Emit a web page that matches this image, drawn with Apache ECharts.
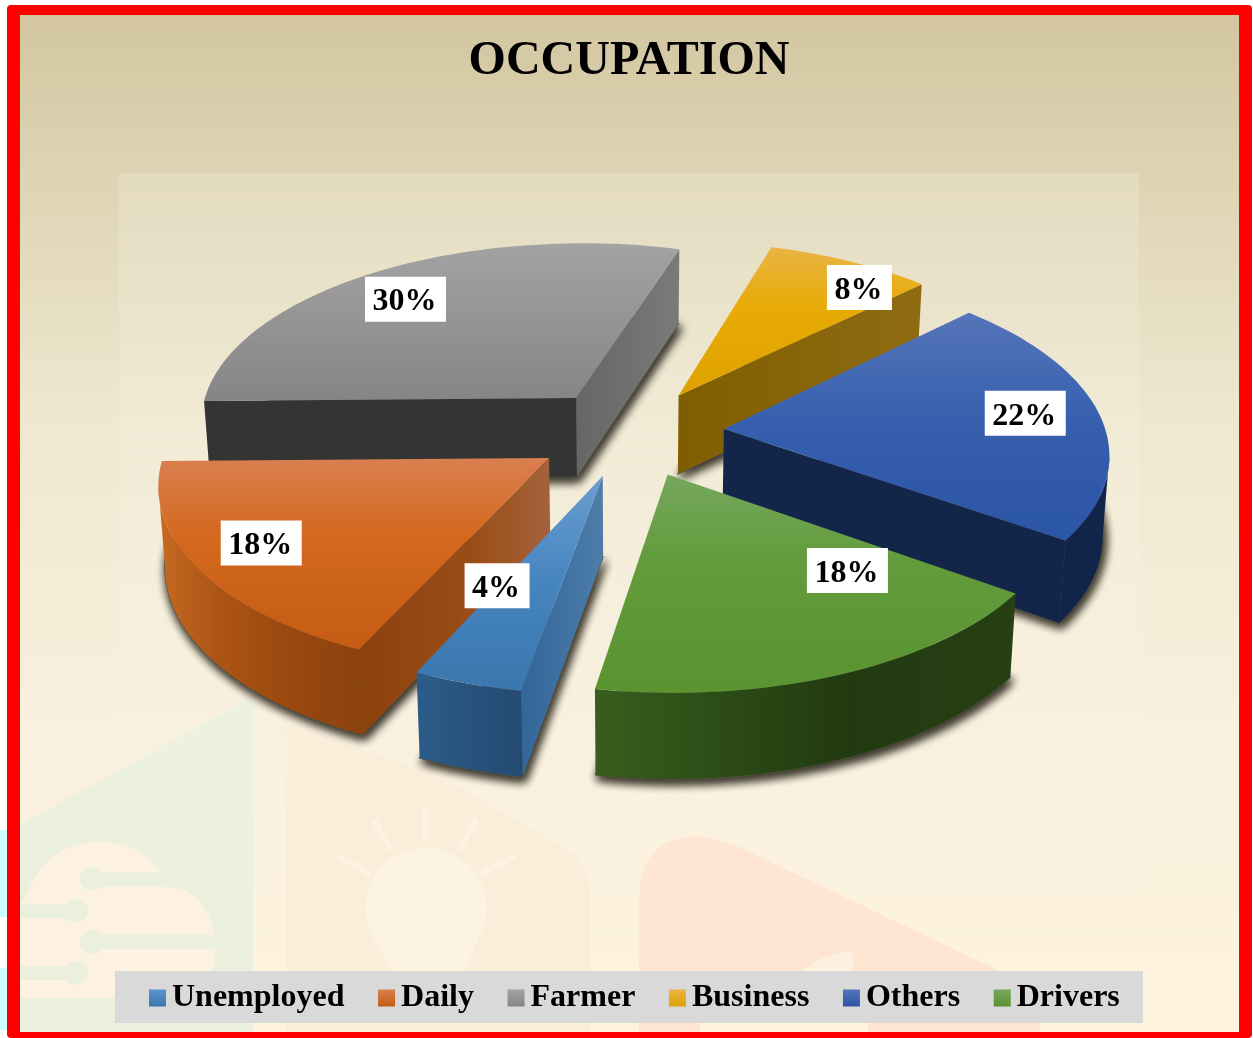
<!DOCTYPE html>
<html>
<head>
<meta charset="utf-8">
<style>html,body{margin:0;padding:0;background:#fff}#c{width:1253px;height:1038px}</style>
<script src="https://cdn.jsdelivr.net/npm/echarts@6/dist/echarts.min.js"></script>
</head>
<body>
<div id="c"></div>
<script>
// ---------- data ----------
const categories = ['Unemployed', 'Daily', 'Farmer', 'Business', 'Others', 'Drivers'];
const shares = [4, 18, 30, 8, 22, 18];
const titleText = 'OCCUPATION';

// ---------- styling ----------
const drawOrder = ['Farmer', 'Business', 'Others', 'Daily', 'Drivers', 'Unemployed'];
const explodeBy = { Unemployed: 0.245, Daily: 0.253, Farmer: 0.245, Business: 0.245, Others: 0.245, Drivers: 0.245 };
const labelRadius = { Unemployed: 0.593, Daily: 0.819, Farmer: 0.788, Business: 0.856, Others: 0.805, Drivers: 0.639 };
const labelAngle = { Unemployed: 244.6, Daily: 211.3, Farmer: 128.6, Business: 50.4, Others: 4.9, Drivers: -49 };
const stops = (...c) => c.map((p) => ({ offset: p[0], color: p[1] }));
const hGrad = (...c) => ({ type: 'linear', x: 0, y: 0, x2: 1, y2: 0, colorStops: stops(...c) });
const vGrad = (...c) => ({ type: 'linear', x: 0, y: 0, x2: 0, y2: 1, colorStops: stops(...c) });
const faces = {
  Unemployed: {
    top: vGrad([0, '#6a9ed0'], [0.5, '#4684bf'], [1, '#3a77ae']),
    swatch: vGrad([0, '#5c93c9'], [1, '#3a77ae']),
    high: hGrad([0, '#33659a'], [1, '#4e7da9']),
    low: '#33659a',
    arc: hGrad([0, '#2b5c88'], [1, '#244a72'])
  },
  Daily: {
    top: vGrad([0, '#d97f50'], [0.4, '#d4691f'], [1, '#c55c13']),
    swatch: vGrad([0, '#d97f50'], [1, '#c55c13']),
    high: hGrad([0, '#8c420d'], [0.6, '#9b4d17'], [1, '#a4623c']),
    low: '#9b4d17',
    arc: hGrad([0, '#c46a22'], [0.3, '#ac5414'], [0.7, '#97470f'], [1, '#8c420d'])
  },
  Farmer: {
    top: vGrad([0, '#a3a3a3'], [1, '#858585']),
    swatch: vGrad([0, '#a3a3a3'], [1, '#858585']),
    high: '#343434',
    low: hGrad([0, '#666666'], [1, '#7a7a7a']),
    arc: '#555555'
  },
  Business: {
    top: vGrad([0, '#e8b445'], [0.4, '#e8ab05'], [1, '#dea200']),
    swatch: vGrad([0, '#e8b445'], [1, '#dea200']),
    high: '#7f5d00',
    low: hGrad([0, '#7f5d00'], [1, '#8f6c12']),
    arc: '#8f6c12'
  },
  Others: {
    top: vGrad([0, '#5674b9'], [0.45, '#3761af'], [1, '#2b55a5']),
    swatch: vGrad([0, '#5674b9'], [1, '#2b55a5']),
    high: '#14284c',
    low: '#13264a',
    arc: '#11244a'
  },
  Drivers: {
    top: vGrad([0, '#75a75d'], [0.4, '#629c3b'], [1, '#5a9330']),
    swatch: vGrad([0, '#75a75d'], [1, '#5a9330']),
    high: '#385e1e',
    low: '#385e1e',
    arc: hGrad([0, '#385e1e'], [0.3, '#2c4c16'], [0.6, '#223a10'], [1, '#264014'])
  }
};
const serif = '"Liberation Serif","Times New Roman",serif';
const scene = {
  cx: 631, cy: 432.5, rx: 381, ry: 181, persp: 0.12, depth: 79.5, taper: 0.014,
  startAngle: 259.2, shearX: -6, shearY: -3
};
const labelBox = { height: 45, baseWidth: 33, charWidth: 16, dy: -1, textDy: 2, textDx: -1 };

// ---------- projection ----------
const total = shares.reduce((a, b) => a + b, 0);
function project(X, Y, z) {
  const s = 1 / (1 + scene.persp * Y);
  const k = 1 - z * scene.taper;
  return [
    scene.cx + scene.rx * X * s * k + scene.shearX * Y,
    scene.cy - scene.ry * Y * s + z * scene.depth * Math.sqrt(s) + scene.shearY * X
  ];
}
const rad = (d) => (d * Math.PI) / 180;

function sliceGeometry(index) {
  let before = 0;
  for (let i = 0; i < index; i++) before += shares[i];
  const high = scene.startAngle - (before / total) * 360;
  const low = high - (shares[index] / total) * 360;
  const mid = (high + low) / 2;
  const e = explodeBy[categories[index]];
  const ax = e * Math.cos(rad(mid));
  const ay = e * Math.sin(rad(mid));
  const rim = [];
  const steps = Math.max(6, Math.ceil((high - low) / 1.5));
  for (let i = 0; i <= steps; i++) {
    const a = rad(high - ((high - low) * i) / steps);
    rim.push([ax + Math.cos(a), ay + Math.sin(a)]);
  }
  return { ax, ay, rim };
}
const at = (pts, z) => pts.map((p) => project(p[0], p[1], z));
function wall(pts, fill) {
  return { type: 'polygon', shape: { points: at(pts, 0).concat(at(pts, 1).reverse()) }, style: { fill, stroke: null } };
}

function renderSlice(params, api, name) {
  const index = categories.indexOf(name);
  const face = faces[name];
  const g = sliceGeometry(index);
  const apex = [g.ax, g.ay];
  const rim = g.rim;
  const children = [];

  const outline = [apex].concat(rim);
  for (let i = 0; i < 2; i++) {
    children.push({
      type: 'polygon',
      shape: { points: at(outline, 1) },
      style: {
        fill: '#5a5648', stroke: '#5a5648', lineWidth: 1,
        shadowColor: 'rgba(60,56,44,0.95)', shadowBlur: 10, shadowOffsetX: 2, shadowOffsetY: 4
      }
    });
  }

  const ap = project(apex[0], apex[1], 0);
  const first = project(rim[0][0], rim[0][1], 0);
  const last = project(rim[rim.length - 1][0], rim[rim.length - 1][1], 0);
  if (first[0] < ap[0]) children.push(wall([apex, rim[0]], face.high));
  if (ap[0] < last[0]) children.push(wall([rim[rim.length - 1], apex], face.low));

  const screen = at(rim, 0);
  let run = [];
  const runs = [];
  for (let i = 0; i < rim.length - 1; i++) {
    if (screen[i + 1][0] < screen[i][0]) {
      if (!run.length) run.push(rim[i]);
      run.push(rim[i + 1]);
    } else if (run.length) {
      runs.push(run);
      run = [];
    }
  }
  if (run.length) runs.push(run);
  runs.forEach((r) => children.push(wall(r, face.arc)));

  children.push({ type: 'polygon', shape: { points: at(outline, 0) }, style: { fill: face.top, stroke: null } });

  const lr = labelRadius[name];
  const la = rad(labelAngle[name]);
  const lp = project(g.ax + lr * Math.cos(la), g.ay + lr * Math.sin(la), 0);
  const labelText = api.value(0) + '%';
  const boxW = labelBox.baseWidth + labelBox.charWidth * labelText.length;
  children.push({
    type: 'rect',
    z2: 49,
    shape: { x: lp[0] - boxW / 2, y: lp[1] + labelBox.dy - labelBox.height / 2, width: boxW, height: labelBox.height },
    style: { fill: '#fff' }
  });
  children.push({
    type: 'text',
    x: lp[0] + labelBox.textDx,
    y: lp[1] + labelBox.textDy,
    z2: 50,
    style: {
      text: labelText,
      font: 'bold 32px ' + serif,
      fill: '#000',
      align: 'center',
      verticalAlign: 'middle'
    }
  });
  return { type: 'group', children };
}

// ---------- page dressing ----------
const cream = '#fcf2df';
const green = '#ebf0de';
const bulb = '#fcf3e1';
function bend(p0, c, p1) {
  const out = [];
  for (let i = 0; i <= 12; i++) {
    const t = i / 12;
    const u = 1 - t;
    out.push([u * u * p0[0] + 2 * u * t * c[0] + t * t * p1[0], u * u * p0[1] + 2 * u * t * c[1] + t * t * p1[1]]);
  }
  return out;
}
const ray = (x1, y1, x2, y2) => ({ type: 'line', shape: { x1, y1, x2, y2 }, style: { stroke: bulb, lineWidth: 6, lineCap: 'round' } });
const trace = (x1, y, x2) => ({ type: 'line', shape: { x1, y1: y, x2, y2: y }, style: { stroke: green, lineWidth: 14 } });
const pad = (cx, cy) => ({ type: 'circle', shape: { cx, cy, r: 12 }, style: { fill: green } });
const dressing = [
  { type: 'rect', shape: { x: 0, y: 830, width: 8, height: 87 }, style: { fill: '#ccffff' } },
  { type: 'rect', shape: { x: 0, y: 968, width: 8, height: 62 }, style: { fill: '#ccffff' } },
  { type: 'rect', shape: { x: 7, y: 5, width: 1245, height: 1033, r: 4 }, style: { fill: '#ff0000' } },
  {
    type: 'rect',
    shape: { x: 20, y: 15, width: 1219, height: 1017 },
    style: {
      fill: {
        type: 'linear', x: 0, y: 0, x2: 0, y2: 1,
        colorStops: stops([0, '#d3c6a1'], [0.17, '#dfd5b5'], [0.4, '#efe8d0'], [0.7, '#f9f0dd'], [1, '#fdf3de'])
      }
    }
  },
  { type: 'polygon', shape: { points: [[20, 825], [253, 697], [253, 1032], [20, 1032]] }, style: { fill: green } },
  { type: 'rect', shape: { x: 119, y: 173, width: 1020, height: 717 }, style: { fill: { type: 'linear', x: 0, y: 0, x2: 0, y2: 1, colorStops: stops([0, 'rgba(255,255,255,0.16)'], [0.6, 'rgba(255,255,255,0.1)'], [1, 'rgba(255,255,255,0.03)']) } } },
  { type: 'polygon', shape: { points: [[286, 722], [445, 780], [560, 845]].concat(bend([560, 845], [590, 860], [590, 890]), [[590, 1032], [286, 1032]]) }, style: { fill: '#faedd9' } },
  { type: 'polygon', shape: { points: [[639, 1032]].concat(bend([639, 900], [640, 836], [700, 836]), [[735, 845], [1040, 990], [1040, 1032]]) }, style: { fill: '#fee6d3' } },
  { type: 'polygon', shape: { points: [[795, 975], [822, 958], [852, 950], [854, 975]] }, style: { fill: '#fdf0e0' } },
  { type: 'rect', shape: { x: 700, y: 1023, width: 168, height: 9 }, style: { fill: '#fdf3de' } },
  { type: 'ellipse', shape: { cx: 426, cy: 908, rx: 61, ry: 60 }, style: { fill: bulb } },
  { type: 'polygon', shape: { points: [[374, 940], [395, 975], [462, 975], [478, 940]] }, style: { fill: bulb } },
  ray(425, 808, 425, 840), ray(375, 822, 390, 848), ray(475, 822, 460, 848), ray(340, 857, 368, 873), ray(513, 857, 483, 873),
  { type: 'polygon', shape: { points: bend([30, 887], [50, 842], [100, 842]).concat(bend([100, 842], [140, 842], [160, 872]), [[100, 872], [100, 887]]) }, style: { fill: cream } },
  { type: 'polygon', shape: { points: [[20, 905], [30, 887]].concat(bend([170, 887], [212, 892], [215, 945]), bend([215, 945], [218, 998], [170, 998]), [[20, 998]]) }, style: { fill: cream } },
  trace(92, 879, 160), trace(20, 911, 76), trace(92, 942, 215), trace(20, 973, 76),
  pad(92, 879), pad(76, 911), pad(92, 942), pad(76, 973),
  { type: 'rect', shape: { x: 115, y: 971, width: 1028, height: 52 }, style: { fill: '#d9d9d9' } }
].map((e) => Object.assign({ silent: true }, e));

// ---------- chart ----------
const chart = echarts.init(document.getElementById('c'), null, { renderer: 'canvas', width: 1253, height: 1038 });
chart.setOption({
  animation: false,
  backgroundColor: '#ffffff',
  title: {
    text: titleText,
    left: 624,
    textAlign: 'center',
    top: 33,
    textStyle: { fontFamily: serif, fontWeight: 'bold', fontSize: 48, color: '#000' }
  },
  graphic: { elements: dressing },
  legend: {
    data: categories,
    left: 115,
    top: 972,
    orient: 'horizontal',
    icon: 'rect',
    itemWidth: 17,
    itemHeight: 17,
    itemGap: 33.6,
    selectedMode: false,
    padding: [8, 23, 8, 34],
    textStyle: { fontFamily: serif, fontWeight: 'bold', fontSize: 32, color: '#000', lineHeight: 36, padding: [0, 0, 0, 1] }
  },
  series: drawOrder.map((name) => ({
    type: 'custom',
    name,
    coordinateSystem: 'none',
    silent: true,
    clip: false,
    itemStyle: { color: faces[name].swatch },
    data: [[shares[categories.indexOf(name)]]],
    renderItem: (params, api) => renderSlice(params, api, name)
  }))
});
</script>
</body>
</html>
